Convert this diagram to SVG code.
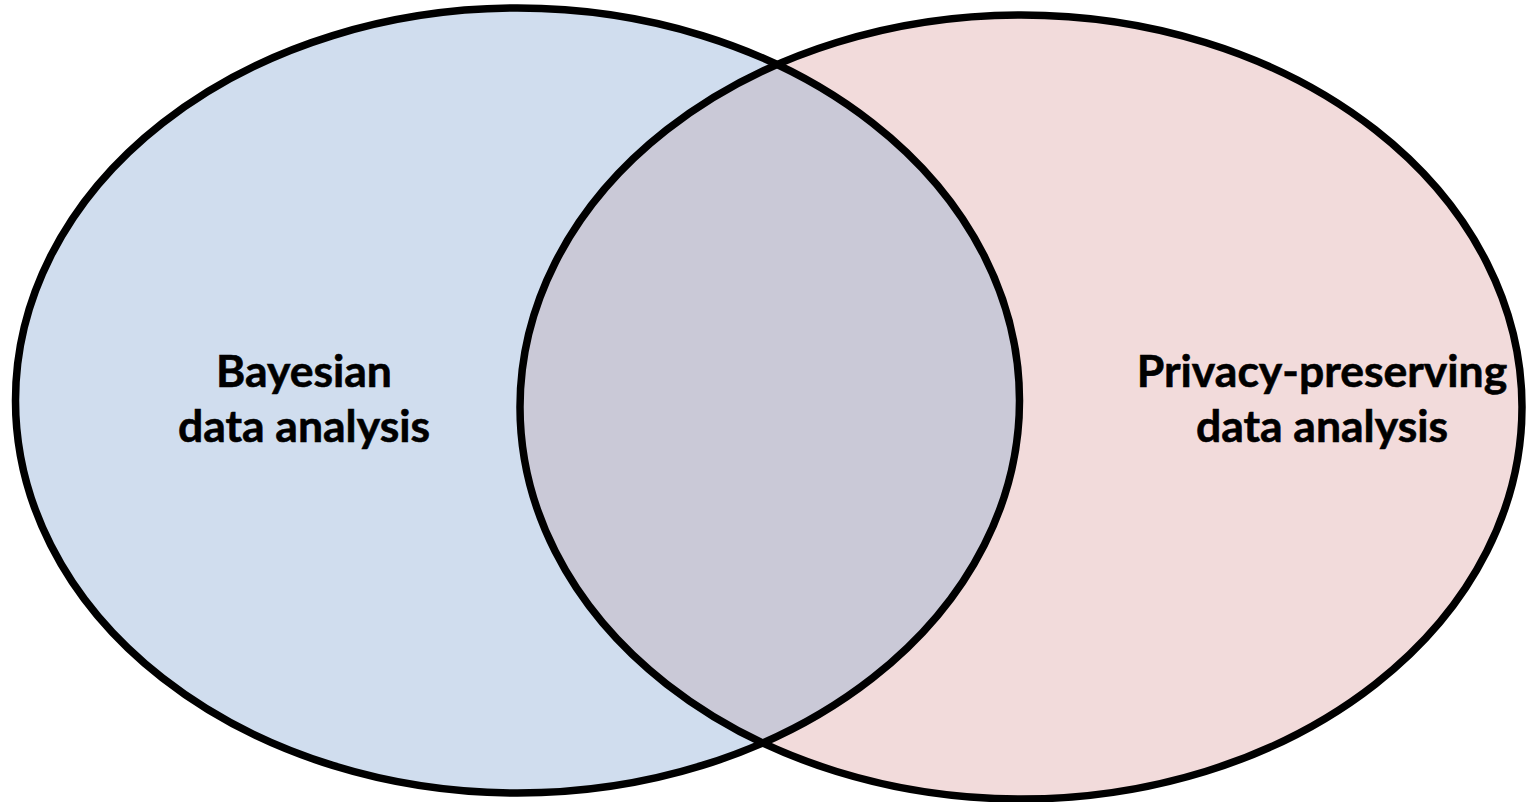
<svg xmlns="http://www.w3.org/2000/svg" width="1530" height="802" viewBox="0 0 1530 802">
<style>
.set{stroke:#000;stroke-width:7.5}
.lbl{font-family:Lato,"Open Sans","Liberation Sans",sans-serif;font-weight:bold;font-size:44.5px;fill:#000;text-anchor:middle;stroke:#000;stroke-width:0.6}
</style>
<defs>
<clipPath id="clipL"><ellipse cx="517.5" cy="400.5" rx="502" ry="392.5"/></clipPath>
</defs>
<rect width="1530" height="802" fill="#fff"/>
<g id="set-bayesian">
<ellipse cx="517.5" cy="400.5" rx="502" ry="392.5" fill="#D0DDEE"/>
</g>
<g id="set-privacy">
<ellipse cx="1021" cy="407" rx="501" ry="392" fill="#F2DBDB"/>
</g>
<g id="overlap">
<ellipse cx="1021" cy="407" rx="501" ry="392" fill="#CAC9D7" clip-path="url(#clipL)"/>
</g>
<g id="outlines" fill="none">
<ellipse class="set" cx="517.5" cy="400.5" rx="502" ry="392.5"/>
<ellipse class="set" cx="1021" cy="407" rx="501" ry="392"/>
</g>
<g id="labels">
<text class="lbl" x="304" y="387">Bayesian</text>
<text class="lbl" x="304" y="442">data analysis</text>
<text class="lbl" x="1322" y="387">Privacy-preserving</text>
<text class="lbl" x="1322" y="442">data analysis</text>
</g>
</svg>
